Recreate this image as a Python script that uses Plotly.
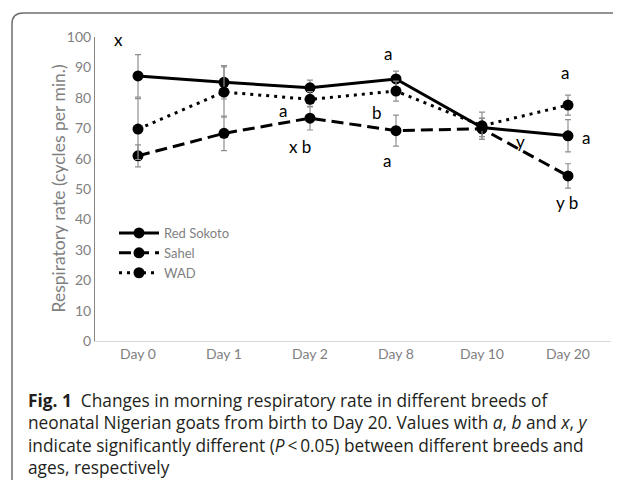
import plotly.graph_objects as go

# data
days = ["Day 0", "Day 1", "Day 2", "Day 8", "Day 10", "Day 20"]

red_sokoto = [87.2, 85.1, 83.3, 86.2, 70.2, 67.5]
red_sokoto_err = [7.0, 5.5, 2.5, 2.6, 3.0, 5.3]

sahel = [60.9, 68.3, 73.3, 69.2, 69.8, 54.3]
sahel_err = [3.6, 5.7, 3.9, 5.1, 3.5, 4.0]

wad = [69.7, 81.9, 79.5, 82.2, 70.8, 77.6]
wad_err = [10.0, 8.3, 2.5, 3.3, 4.5, 3.3]

letters = ["x", "a", "x b", "a", "b", "a", "y", "a", "a", "y b"]

y_title = "Respiratory rate (cycles per min.)"
caption = ("<b>Fig. 1</b>  Changes in morning respiratory rate in different breeds of<br>"
           "neonatal Nigerian goats from birth to Day 20. Values with <i>a</i>, <i>b</i> and <i>x</i>, <i>y</i><br>"
           "indicate significantly different (<i>P</i>\u2009<\u20090.05) between different breeds and<br>"
           "ages, respectively")

GREY = "#7f7f7f"
ERR = "#8f8f8f"

# page body has an 8px margin, so the figure is drawn 8px smaller and all
# positions below are given in window pixels
OFF = 8
W, H = 621 - OFF, 480 - OFF
ml, mr, mt, mb = 95 - OFF, 10, 37 - OFF, 139
pw, ph = W - ml - mr, H - mt - mb


def px_x(p):
    return (p - OFF - ml) / pw


def px_y(p):
    return (H - mb - (p - OFF)) / ph


fig = go.Figure()

series = [
    ("Red Sokoto", red_sokoto, red_sokoto_err, "solid"),
    ("Sahel", sahel, sahel_err, "12px,6px"),
    ("WAD", wad, wad_err, "3px,5px"),
]
for name, vals, err, dash in series:
    fig.add_trace(go.Scatter(
        x=days, y=vals, name=name, mode="lines+markers",
        line=dict(color="black", width=3, dash=dash),
        marker=dict(color="black", size=11),
        error_y=dict(type="data", array=err, color=ERR, thickness=1.2, width=3),
    ))

# significance letters, placed near the points they refer to
letter_pos = [(-0.23, 99.3), (1.69, 75.7), (1.88, 64.1), (2.91, 94.7), (2.78, 75.3),
              (2.90, 59.5), (4.45, 65.5), (4.97, 88.2), (5.21, 66.8), (4.99, 45.7)]
for txt, (xi, yi) in zip(letters, letter_pos):
    fig.add_annotation(x=xi, y=yi, text=txt, showarrow=False, xref="x", yref="y",
                       font=dict(family="Lato", size=17, color="black"))

# y axis title
fig.add_annotation(x=px_x(45), y=px_y(189), xref="paper", yref="paper", text=y_title,
                   textangle=-90, showarrow=False,
                   font=dict(family="Lato", size=17.5, color=GREY))

# caption below the chart
fig.add_annotation(x=px_x(26), y=px_y(387), xref="paper", yref="paper",
                   text=caption, showarrow=False, xanchor="left", yanchor="top",
                   align="left",
                   font=dict(family="Open Sans", size=17.3, color="#231f20"))

# card border: rounded top-left corner
fig.add_shape(type="path", xref="paper", yref="paper",
              path=f"M {px_x(12)},{px_y(490)} L {px_x(12)},{px_y(24)} "
                   f"Q {px_x(12)},{px_y(13)} {px_x(23)},{px_y(13)} L {px_x(630)},{px_y(13)}",
              line=dict(color="#6d6e71", width=1.5))

fig.update_layout(
    width=W, height=H,
    margin=dict(l=ml, r=mr, t=mt, b=mb, autoexpand=False),
    plot_bgcolor="white", paper_bgcolor="white",
    font=dict(family="Lato", color=GREY),
    showlegend=True,
    legend=dict(x=px_x(114), y=px_y(218), xanchor="left", yanchor="top",
                font=dict(size=13, color=GREY), itemwidth=40,
                tracegroupgap=0, bgcolor="rgba(0,0,0,0)"),
)
fig.update_xaxes(type="category", range=[-0.5, 5.5], showline=True, linecolor="#d9d9d9",
                 linewidth=1, showgrid=False, ticks="", automargin=False,
                 tickfont=dict(size=14, color=GREY))
fig.update_yaxes(range=[0, 100], dtick=10, showline=True, linecolor="#868686", linewidth=1,
                 showgrid=False, ticks="", zeroline=False, automargin=False,
                 tickfont=dict(size=14, color=GREY))

fig.write_html("out.html")
